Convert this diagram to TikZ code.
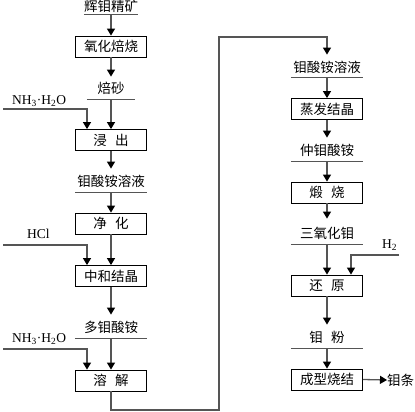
\documentclass[tikz,border=0pt]{standalone}
\usepackage{fontspec}
\setmainfont{Liberation Serif}
\newfontfamily\cjk{Noto Sans CJK SC}
\usetikzlibrary{arrows.meta}
\definecolor{lnc}{RGB}{85,85,85}
\begin{document}
\begin{tikzpicture}[x=1pt,y=-1pt,
  every node/.style={inner sep=0pt},
  stepbox/.style={draw=black,line width=0.8pt,minimum width=71pt,minimum height=21pt,font=\cjk\fontsize{13.5}{14}\selectfont},
  lbl/.style={font=\cjk\fontsize{13.5}{14}\selectfont,text height=11pt,text depth=2pt,inner ysep=3pt,anchor=south},
  chem/.style={font=\fontsize{13.5}{14}\selectfont,anchor=base west},
  flow/.style={draw=lnc,line width=1.3pt,-{Triangle[length=7pt,width=8pt,color=black]}},
  uline/.style={draw=lnc,line width=1pt}
]
\useasboundingbox (0,0) rectangle (415,412);
% left column
\node[lbl,minimum width=50pt,text height=10pt,inner ysep=1pt] (l0) at (111,15) {辉钼精矿};
\node[stepbox] (b1) at (111,46.5) {氧化焙烧};
\node[lbl,minimum width=48pt] (l1) at (111,99) {焙砂};
\node[stepbox] (b2) at (111,140) {浸\hspace{0.6em}出};
\node[lbl,minimum width=71pt] (l2) at (111,192) {钼酸铵溶液};
\node[stepbox] (b3) at (111,223.5) {净\hspace{0.6em}化};
\node[stepbox] (b4) at (111,276) {中和结晶};
\node[lbl,minimum width=72pt] (l3) at (111,338) {多钼酸铵};
\node[stepbox] (b5) at (111,380.5) {溶\hspace{0.6em}解};
% right column
\node[lbl,minimum width=72pt] (r0) at (327,78) {钼酸铵溶液};
\node[stepbox] (b6) at (327,109) {蒸发结晶};
\node[lbl,minimum width=72pt] (r1) at (327,161) {仲钼酸铵};
\node[stepbox] (b7) at (327,192.5) {煅\hspace{0.6em}烧};
\node[lbl,minimum width=72pt] (r2) at (327,244) {三氧化钼};
\node[stepbox] (b8) at (327,285.5) {还\hspace{0.6em}原};
\node[lbl,minimum width=72pt] (r3) at (327,348) {钼\hspace{0.6em}粉};
\node[stepbox] (b9) at (327,379.5) {成型烧结};
\node[anchor=west,font=\cjk\fontsize{13.5}{14}\selectfont] (p) at (387,380) {钼条};
% underlines
\foreach \n in {l0,l1,l2,l3,r0,r1,r2,r3} \draw[uline] (\n.south west) -- (\n.south east);
% main flow
\draw[flow] (l0.south) -- (b1.north);
\draw[flow,shorten >=3pt] (b1.south) -- (l1.north);
\draw[flow] (l1.south) -- (b2.north);
\draw[flow,shorten >=4pt] (b2.south) -- (l2.north);
\draw[flow] (l2.south) -- (b3.north);
\draw[flow] (b3.south) -- (b4.north);
\draw[flow,shorten >=4pt] (b4.south) -- (l3.north);
\draw[flow] (l3.south) -- (b5.north);
\coordinate (c1) at (219,410);
\coordinate (c2) at (219,37);
\draw[flow,shorten >=4pt] (b5.south) |- (c1) -- (c2) -| (r0.north);
\draw[flow] (r0.south) -- (b6.north);
\draw[flow,shorten >=4pt] (b6.south) -- (r1.north);
\draw[flow] (r1.south) -- (b7.north);
\draw[flow,shorten >=6pt] (b7.south) -- (r2.north);
\draw[flow] (r2.south) -- (b8.north);
\draw[flow,shorten >=4pt] (b8.south) -- (r3.north);
\draw[flow] (r3.south) -- (b9.north);
\draw[flow] (b9.east) -- (p.west);
% side inputs
\node[chem] (n1) at (12,104) {NH\textsubscript{3}·H\textsubscript{2}O};
\coordinate (s1) at (3,109);
\draw[flow] (s1) -| ([xshift=-24pt]b2.north);
\node[chem] (n2) at (27,238) {HCl};
\coordinate (s2) at (3,245);
\draw[flow] (s2) -| ([xshift=-24pt]b4.north);
\node[chem] (n3) at (12,342) {NH\textsubscript{3}·H\textsubscript{2}O};
\coordinate (s3) at (3,349);
\draw[flow] (s3) -| ([xshift=-24pt]b5.north);
\node[chem] (n4) at (382,248) {H\textsubscript{2}};
\coordinate (s4) at (399,255);
\draw[flow] (s4) -| ([xshift=24pt]b8.north);
\end{tikzpicture}
\end{document}
